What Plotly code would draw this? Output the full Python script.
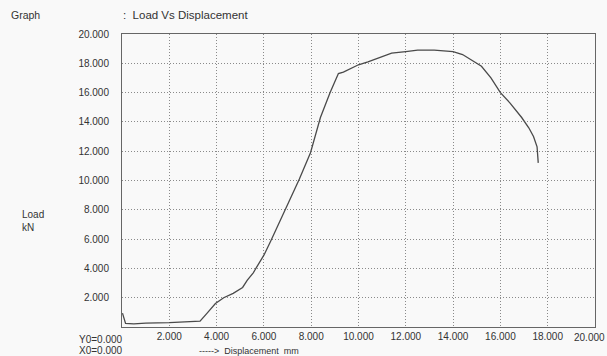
import plotly.graph_objects as go

displacement_mm = [0.02, 0.15, 0.5, 1.0, 2.0, 3.0, 3.3, 3.6, 3.95, 4.3, 4.7, 5.1, 5.3, 5.55, 6.0, 6.3, 6.7,
                   7.1, 7.5, 7.97, 8.39, 8.8, 9.15, 9.36, 10.0, 10.4, 10.9, 11.4, 12.0, 12.5, 13.2,
                   14.0, 14.4, 15.2, 15.6, 16.0, 16.4, 16.9, 17.2, 17.4, 17.55, 17.6]
load_kN = [0.95, 0.25, 0.22, 0.27, 0.3, 0.35, 0.4, 0.95, 1.6, 2.0, 2.3, 2.7, 3.2, 3.7, 4.9, 5.9, 7.3,
           8.7, 10.1, 11.9, 14.3, 16.0, 17.3, 17.4, 17.9, 18.1, 18.4, 18.7, 18.8, 18.9, 18.9,
           18.8, 18.6, 17.8, 17.0, 16.0, 15.3, 14.3, 13.6, 13.0, 12.3, 11.2]

x_ticks = [2, 4, 6, 8, 10, 12, 14, 16, 18, 20]
y_ticks = [2, 4, 6, 8, 10, 12, 14, 16, 18, 20]
x_tick_text = ["%.3f" % v for v in x_ticks]
y_tick_text = ["%.3f" % v for v in y_ticks]

txt = "#333333"
font = dict(family="Liberation Sans, Arial, sans-serif", size=10, color=txt)

L, R, T, B = 122, 12, 34, 29
W, H = 607, 356
pw, ph = W - L - R, H - T - B

fig = go.Figure()
fig.add_trace(go.Scatter(x=displacement_mm, y=load_kN, mode="lines",
                         line=dict(color="#4a4a4a", width=1.3), showlegend=False, hoverinfo="skip"))

grid = dict(showgrid=True, gridcolor="#8a8a8a", griddash="1px,2px", gridwidth=1,
            showline=True, linecolor="#666666", linewidth=1, mirror=True,
            zeroline=False, ticks="", tickfont=font, automargin=False)

# last x tick label (20.000) is drawn as annotation so it is not clipped at the right edge
fig.update_layout(
    width=W, height=H,
    margin=dict(l=L, r=R, t=T, b=B),
    paper_bgcolor="#f9f9f9", plot_bgcolor="#f9f9f9",
    font=font,
    xaxis=dict(range=[0, 20], tickvals=x_ticks[:-1], ticktext=x_tick_text[:-1], **grid),
    yaxis=dict(range=[0, 20], tickvals=y_ticks, ticktext=y_tick_text, ticklabelstandoff=10, **grid),
)


def ann(text, px, py, anchor="left", size=10):
    fig.add_annotation(text=text, xref="paper", yref="paper",
                       x=(px - L) / pw, y=(H - B - py) / ph,
                       xanchor=anchor, yanchor="middle", showarrow=False,
                       align="left", borderpad=0, font=dict(size=size))


ann("Graph", 10, 15, size=10.5)
ann(":  Load Vs Displacement", 122, 15, size=11.5)
ann("Load<br>kN", 21, 221)
ann("Y0=0.000", 78, 339)
ann("X0=0.000", 78, 351)
ann("-----&gt;  Displacement  mm", 198, 351, size=9)
ann(x_tick_text[-1], 606, 338, anchor="right")

fig.write_html("out.html", config={"displayModeBar": False},
               post_script="document.body.style.margin='0';")
